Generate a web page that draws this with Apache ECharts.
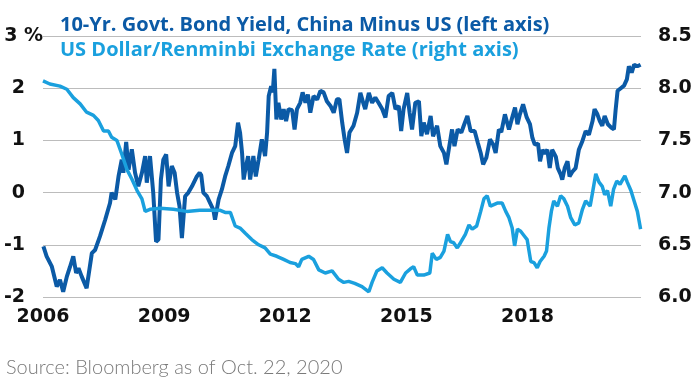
<!DOCTYPE html>
<html>
<head>
<meta charset="utf-8">
<script src="https://cdn.jsdelivr.net/npm/echarts/dist/echarts.min.js"></script>
<style>html,body{margin:0;padding:0;background:#fff;}#c{width:700px;height:390px;}</style>
</head>
<body>
<div id="c"></div>
<script>
const xTickLabels = ['2006', '2009', '2012', '2015', '2018'];
const leftTicks = ['-2', '-1', '0', '1', '2', '3 %'];
const rightTicks = ['6.0', '6.5', '7.0', '7.5', '8.0', '8.5'];

const yieldYears = [2006.01,2006.09,2006.22,2006.34,2006.42,2006.50,2006.59,2006.67,2006.75,2006.82,2006.88,2006.96,2007.08,2007.21,2007.29,2007.41,2007.54,2007.66,2007.70,2007.79,2007.87,2007.95,2007.99,2008.06,2008.12,2008.20,2008.28,2008.36,2008.45,2008.53,2008.57,2008.65,2008.73,2008.80,2008.86,2008.92,2008.98,2009.05,2009.11,2009.19,2009.26,2009.32,2009.38,2009.44,2009.52,2009.60,2009.69,2009.81,2009.88,2009.92,2009.97,2010.06,2010.14,2010.22,2010.26,2010.35,2010.43,2010.51,2010.59,2010.68,2010.76,2010.83,2010.88,2010.93,2010.97,2011.01,2011.08,2011.13,2011.21,2011.27,2011.34,2011.42,2011.50,2011.55,2011.59,2011.65,2011.69,2011.73,2011.78,2011.83,2011.90,2011.96,2012.02,2012.08,2012.17,2012.23,2012.29,2012.37,2012.43,2012.50,2012.56,2012.62,2012.70,2012.79,2012.87,2012.95,2013.03,2013.12,2013.20,2013.28,2013.34,2013.41,2013.47,2013.53,2013.59,2013.69,2013.78,2013.86,2013.93,2013.98,2014.07,2014.15,2014.23,2014.31,2014.40,2014.48,2014.56,2014.65,2014.73,2014.81,2014.87,2014.93,2015.02,2015.08,2015.14,2015.22,2015.31,2015.37,2015.43,2015.51,2015.60,2015.66,2015.76,2015.84,2015.93,2015.99,2016.05,2016.13,2016.19,2016.27,2016.36,2016.42,2016.51,2016.59,2016.69,2016.77,2016.84,2016.90,2016.98,2017.07,2017.15,2017.21,2017.29,2017.35,2017.44,2017.54,2017.62,2017.69,2017.75,2017.81,2017.89,2017.98,2018.06,2018.12,2018.18,2018.26,2018.31,2018.37,2018.42,2018.49,2018.55,2018.61,2018.70,2018.75,2018.82,2018.86,2018.92,2018.99,2019.04,2019.11,2019.19,2019.27,2019.36,2019.44,2019.52,2019.61,2019.66,2019.73,2019.79,2019.85,2019.91,2019.99,2020.08,2020.14,2020.18,2020.23,2020.31,2020.39,2020.46,2020.51,2020.58,2020.64,2020.72,2020.80];
const yieldValues = [-1.03,-1.22,-1.42,-1.80,-1.67,-1.90,-1.61,-1.42,-1.22,-1.54,-1.45,-1.61,-1.83,-1.16,-1.10,-0.84,-0.52,-0.20,0.00,-0.13,0.31,0.63,0.38,0.97,0.44,0.83,0.38,0.12,0.38,0.70,0.19,0.70,0.00,-0.94,-0.90,0.25,0.63,0.73,0.12,0.51,0.38,0.00,-0.26,-0.87,-0.07,0.00,0.12,0.31,0.38,0.33,0.00,-0.07,-0.20,-0.33,-0.52,-0.13,0.06,0.31,0.51,0.76,0.89,1.34,1.15,0.76,0.25,0.44,0.70,0.25,0.70,0.31,0.63,1.02,0.70,1.15,1.85,2.04,1.92,2.37,1.40,1.72,1.40,1.60,1.37,1.60,1.58,1.21,1.60,1.72,1.92,1.72,1.88,1.53,1.85,1.78,1.95,1.92,1.75,1.66,1.53,1.79,1.79,1.34,1.02,0.76,1.15,1.28,1.53,1.91,1.72,1.60,1.91,1.72,1.82,1.72,1.60,1.44,1.85,1.91,1.60,1.66,1.18,1.60,1.91,1.53,1.21,1.72,1.75,1.08,1.34,1.12,1.47,1.08,1.28,0.89,0.76,0.54,0.83,1.21,0.89,1.21,1.15,1.28,1.47,1.18,1.18,0.95,0.76,0.54,0.67,1.02,0.92,0.76,1.21,1.16,1.50,1.21,1.44,1.63,1.31,1.50,1.69,1.44,1.31,1.05,0.92,0.94,0.60,0.82,0.75,0.82,0.47,0.82,0.69,0.47,0.35,0.25,0.47,0.60,0.31,0.40,0.47,0.82,0.99,1.18,1.11,1.37,1.60,1.50,1.37,1.28,1.47,1.31,1.24,1.21,1.57,1.95,2.00,2.05,2.17,2.42,2.30,2.45,2.42,2.45];

const fxYears = [2006.00,2006.17,2006.42,2006.59,2006.75,2006.92,2007.08,2007.25,2007.37,2007.50,2007.62,2007.70,2007.83,2007.95,2008.08,2008.20,2008.33,2008.45,2008.53,2008.65,2008.90,2009.23,2009.56,2009.88,2010.39,2010.51,2010.64,2010.76,2010.88,2011.01,2011.17,2011.34,2011.50,2011.63,2011.79,2011.96,2012.12,2012.25,2012.33,2012.41,2012.58,2012.70,2012.83,2012.99,2013.16,2013.32,2013.45,2013.57,2013.72,2013.90,2014.07,2014.15,2014.27,2014.40,2014.52,2014.69,2014.85,2014.98,2015.10,2015.18,2015.27,2015.43,2015.58,2015.64,2015.74,2015.84,2015.93,2016.02,2016.09,2016.17,2016.26,2016.34,2016.46,2016.55,2016.63,2016.74,2016.84,2016.92,2017.00,2017.08,2017.25,2017.37,2017.46,2017.54,2017.62,2017.68,2017.75,2017.83,2017.93,2017.99,2018.08,2018.16,2018.24,2018.31,2018.41,2018.47,2018.53,2018.59,2018.65,2018.74,2018.82,2018.90,2018.99,2019.07,2019.17,2019.27,2019.36,2019.44,2019.55,2019.61,2019.69,2019.77,2019.85,2019.91,2019.98,2020.06,2020.13,2020.21,2020.29,2020.41,2020.47,2020.56,2020.64,2020.72,2020.80];
const fxValues = [8.07,8.04,8.02,7.99,7.91,7.85,7.77,7.74,7.69,7.59,7.59,7.53,7.50,7.37,7.22,7.13,7.02,6.94,6.82,6.84,6.85,6.84,6.82,6.83,6.83,6.81,6.81,6.68,6.66,6.61,6.55,6.50,6.47,6.41,6.39,6.36,6.33,6.32,6.29,6.36,6.39,6.36,6.26,6.23,6.25,6.17,6.14,6.15,6.13,6.10,6.05,6.14,6.25,6.28,6.23,6.17,6.14,6.23,6.27,6.29,6.21,6.21,6.23,6.42,6.36,6.38,6.44,6.60,6.53,6.52,6.47,6.52,6.60,6.69,6.65,6.68,6.82,6.94,6.97,6.87,6.90,6.90,6.82,6.76,6.66,6.49,6.65,6.63,6.58,6.55,6.34,6.33,6.28,6.34,6.39,6.44,6.66,6.82,6.92,6.87,6.97,6.94,6.87,6.76,6.69,6.71,6.84,6.92,6.87,7.00,7.18,7.10,7.06,6.98,7.02,6.87,7.03,7.11,7.08,7.16,7.10,7.02,6.92,6.82,6.65];

const baseYear = 2006;
const endYear = 2020.81;
const darkBlue = '#0b5aa6';
const lightBlue = '#1aa0de';
const labelFont = 'DejaVu Sans';
const titleFont = 'Open Sans';

const chart = echarts.init(document.getElementById('c'), null, {renderer: 'canvas'});

function leftLabel(v) {
  const idx = Math.round(v + 2);
  const t = leftTicks[idx];
  if (t === undefined) return '';
  if (t.indexOf('%') >= 0) return '{p|' + t + '}';
  return '{v|' + t + '}';
}

chart.setOption({
  animation: false,
  backgroundColor: '#ffffff',
  title: [
    {text: '10-Yr. Govt. Bond Yield, China Minus US (left axis)', left: 60, top: 15, padding: 0,
     textStyle: {color: darkBlue, fontSize: 20, fontWeight: 'bold', fontFamily: titleFont}},
    {text: 'US Dollar/Renminbi Exchange Rate (right axis)', left: 60, top: 40, padding: 0,
     textStyle: {color: lightBlue, fontSize: 20, fontWeight: 'bold', fontFamily: titleFont}},
    {text: 'Source: Bloomberg as of Oct. 22, 2020', left: 6, top: 358, padding: 0,
     textStyle: {color: '#7a7a7a', fontSize: 20, fontWeight: 300, fontFamily: 'Lato'}}
  ],
  grid: {left: 43, right: 59, top: 36, bottom: 93, containLabel: false},
  xAxis: {
    type: 'value', min: 0, max: endYear - baseYear, interval: 3,
    axisLine: {show: false}, axisTick: {show: false}, splitLine: {show: false},
    axisLabel: {
      margin: 11, color: '#111', fontSize: 19, fontWeight: 'bold', fontFamily: labelFont,
      showMaxLabel: false,
      formatter: function (v) {
        const i = Math.round(v / 3);
        if (Math.abs(v - i * 3) > 1e-6) return '';
        return xTickLabels[i] || '';
      }
    }
  },
  yAxis: [
    {
      type: 'value', min: -2, max: 3, interval: 1, position: 'left',
      axisLine: {show: false}, axisTick: {show: false},
      splitLine: {show: true, lineStyle: {color: '#bcbcbc', width: 1}},
      axisLabel: {
        align: 'left', margin: 39, color: '#111', fontSize: 19, fontWeight: 'bold', fontFamily: labelFont,
        formatter: leftLabel,
        rich: {
          v: {width: 21, align: 'right', fontSize: 19, fontWeight: 'bold', fontFamily: labelFont, color: '#111'},
          p: {width: 39, align: 'right', fontSize: 19, fontWeight: 'bold', fontFamily: labelFont, color: '#111'}
        }
      }
    },
    {
      type: 'value', min: 6, max: 8.5, interval: 0.5, position: 'right',
      axisLine: {show: false}, axisTick: {show: false}, splitLine: {show: false},
      axisLabel: {
        margin: 17, color: '#111', fontSize: 19, fontWeight: 'bold', fontFamily: labelFont,
        formatter: function (v) {
          const i = Math.round((v - 6) / 0.5);
          return rightTicks[i] || '';
        }
      }
    }
  ],
  series: [
    {
      name: 'yield', type: 'line', xAxisIndex: 0, yAxisIndex: 0, showSymbol: false, symbol: 'none',
      lineStyle: {color: darkBlue, width: 4}, itemStyle: {color: darkBlue},
      data: yieldYears.map((y, i) => [y - baseYear, yieldValues[i]])
    },
    {
      name: 'fx', type: 'line', xAxisIndex: 0, yAxisIndex: 1, showSymbol: false, symbol: 'none',
      lineStyle: {color: lightBlue, width: 3.5}, itemStyle: {color: lightBlue},
      data: fxYears.map((y, i) => [y - baseYear, fxValues[i]])
    }
  ]
});
</script>
</body>
</html>
